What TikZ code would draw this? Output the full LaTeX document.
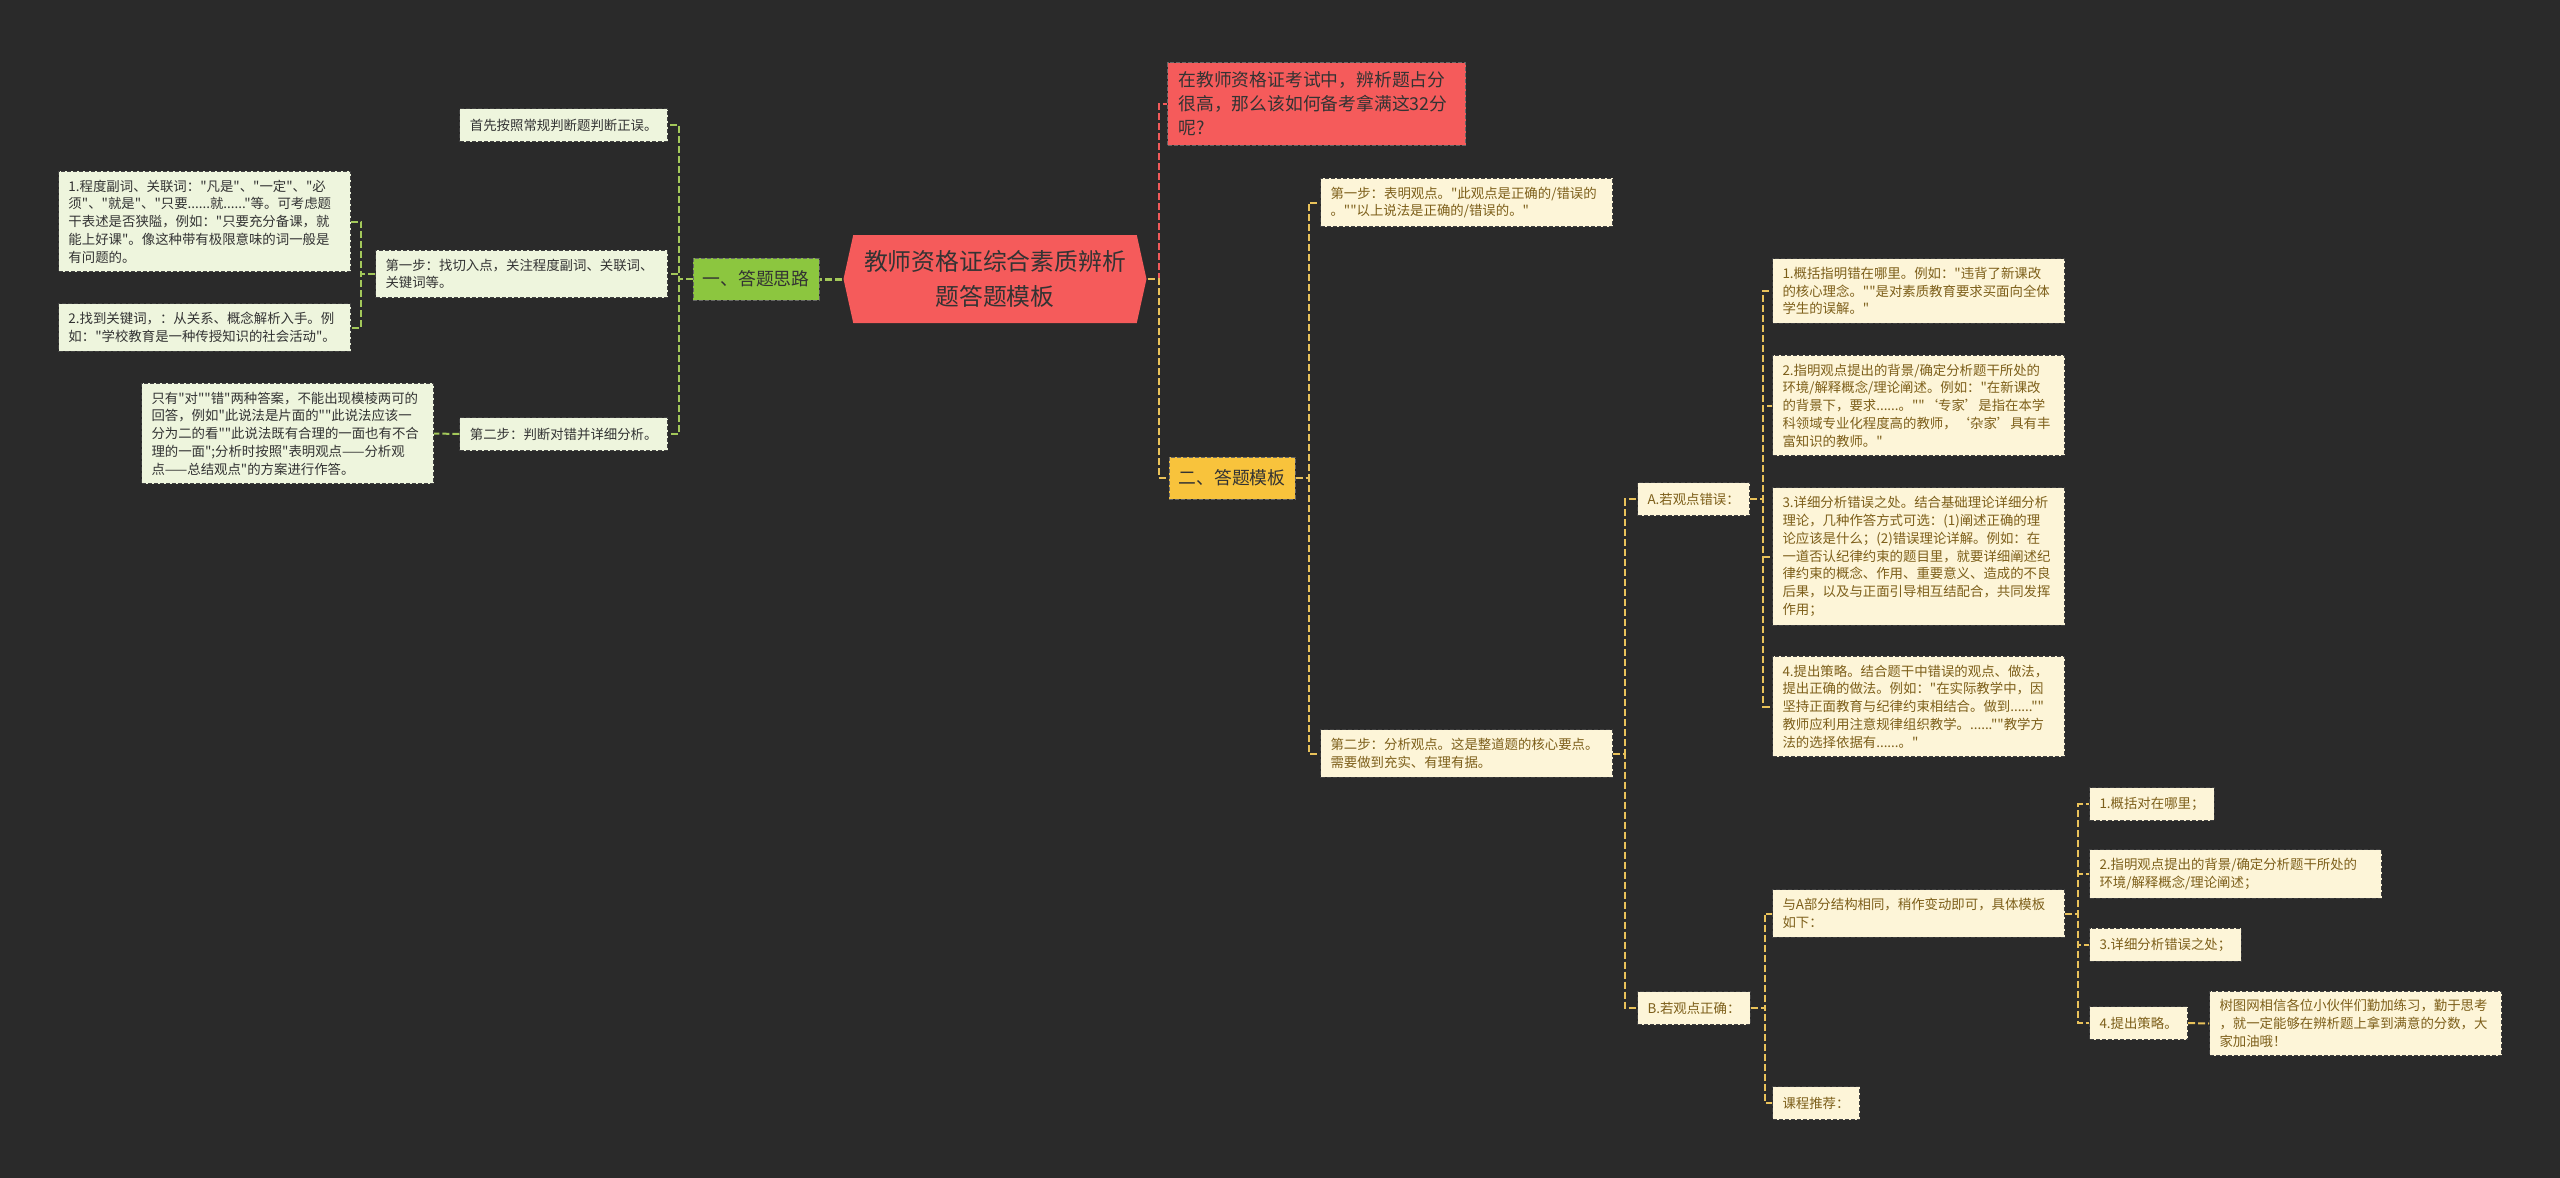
\documentclass[tikz,border=0pt]{standalone}
\usepackage{fontspec}
\setmainfont{Noto Sans CJK SC}[Ligatures=TeXOff]
\usepackage{tikz}
\usetikzlibrary{shapes,shapes.symbols,positioning}

\definecolor{bgdark}{HTML}{2A2A2A}
\definecolor{rootred}{HTML}{F55B5B}
\definecolor{leafgreen}{HTML}{EEF5DD}
\definecolor{leafcream}{HTML}{FDF5D8}
\definecolor{olive}{HTML}{7D5F1A}
\definecolor{topgreen}{HTML}{8CC63F}
\definecolor{topyellow}{HTML}{F8C33C}
\definecolor{linegreen}{HTML}{A3C85A}
\definecolor{lineyellow}{HTML}{E9C25A}
\definecolor{linered}{HTML}{F05A5A}
\definecolor{txtdark}{HTML}{333333}

\newcommand{\leaffont}{\fontsize{6.7}{8.9}\selectfont}

\begin{document}
\begin{tikzpicture}[x=0.5pt,y=-0.5pt,line width=1pt]
\tikzstyle{leafL} = [draw=black!75, dash pattern=on 2pt off 1pt, line width=0.5pt, fill=leafgreen, text=txtdark, font=\leaffont, align=left, inner xsep=5pt, inner ysep=4.2pt, minimum height=16.5pt]
\tikzstyle{wideL} = [leafL, text width=136pt]
\tikzstyle{leafR} = [leafL, fill=leafcream, text=olive]
\tikzstyle{wideR} = [leafR, text width=136pt]
\tikzstyle{topic} = [draw=black!60, dash pattern=on 2pt off 1pt, line width=0.5pt, text=txtdark, font=\fontsize{8.9}{12}\selectfont, minimum width=63pt, minimum height=21pt, inner sep=0pt]
\tikzstyle{rootnode} = [shape=signal, signal to=west and east, signal pointer angle=155, fill=rootred, text=txtdark, font=\fontsize{11.9}{17.5}\selectfont, align=center, minimum width=151.5pt, minimum height=44pt, inner sep=2pt]
\tikzstyle{linkL} = [draw=linegreen, dash pattern=on 3.5pt off 1.5pt, line width=1pt]
\tikzstyle{linkR} = [linkL, draw=lineyellow]

% Canvas
\useasboundingbox (0,0) rectangle (2560,1178);
\fill[bgdark] (0,0) rectangle (2560,1178);

% Root and main topics
\node[rootnode] at (995,279) (root) {教师资格证综合素质辨析\\题答题模板};
\node[topic, fill=topgreen] at (756,279) (g1) {一、答题思路};
\node[topic, fill=topyellow] at (1232,478) (g2) {二、答题模板};
\node[draw=black!60, dash pattern=on 2pt off 1pt, line width=0.5pt, fill=rootred, text=txtdark, font=\fontsize{8.9}{12}\selectfont, align=left, text width=138pt, inner xsep=5.5pt, inner ysep=4.5pt, anchor=west] at (1167,104) (intro) {在教师资格证考试中，辨析题占分\\很高，那么该如何备考拿满这32分\\呢?};

% Left branch
\node[leafL, anchor=east] at (668,125) (s0) {首先按照常规判断题判断正误。};
\node[wideL, anchor=east] at (668,274) (s1) {第一步：找切入点，关注程度副词、关联词、\\关键词等。};
\node[leafL, anchor=east] at (668,434) (s2) {第二步：判断对错并详细分析。};
\node[wideL, anchor=east] at (351,221.5) (k1) {1.程度副词、关联词："凡是"、"一定"、"必\\须"、"就是"、"只要......就......"等。可考虑题\\干表述是否狭隘，例如："只要充分备课，就\\能上好课"。像这种带有极限意味的词一般是\\有问题的。};
\node[wideL, below of=k1, node distance=53pt] (k2) {2.找到关键词，：从关系、概念解析入手。例\\如："学校教育是一种传授知识的社会活动"。};
\node[wideL, anchor=east] at (434,433.5) (k3) {只有"对""错"两种答案，不能出现模棱两可的\\回答，例如"此说法是片面的""此说法应该一\\分为二的看""此说法既有合理的一面也有不合\\理的一面";分析时按照"表明观点——分析观\\点——总结观点"的方案进行作答。};

\draw[linkL, line width=1.5pt] (root.west) -- (g1.east);
\draw[linkL] (g1.west) -- ++(-14,0) |- (s0.east);
\draw[linkL] (g1.west) -- ++(-14,0) |- (s1.east);
\draw[linkL] (g1.west) -- ++(-14,0) |- (s2.east);
\draw[linkL] (s1.west) -- ++(-14,0) |- (k1.east);
\draw[linkL] (s1.west) -- ++(-14,0) |- (k2.east);
\draw[linkL] (s2.west) -- (k3.east);

% Right branch
\node[wideR, anchor=west] at (1320,202.5) (t1) {第一步：表明观点。"此观点是正确的/错误的\\。""以上说法是正确的/错误的。"};
\node[wideR, anchor=west] at (1320,753.5) (t2) {第二步：分析观点。这是整道题的核心要点。\\需要做到充实、有理有据。};
\node[leafR, anchor=west] at (1637,499) (A) {A.若观点错误：};
\node[leafR, anchor=west] at (1637,1008) (B) {B.若观点正确：};

\node[wideR, anchor=west] at (1772,291) (a1) {1.概括指明错在哪里。例如："违背了新课改\\的核心理念。""是对素质教育要求买面向全体\\学生的误解。"};
\node[wideR, below of=a1, node distance=57.25pt] (a2) {2.指明观点提出的背景/确定分析题干所处的\\环境/解释概念/理论阐述。例如："在新课改\\的背景下，要求......。""‘专家’是指在本学\\科领域专业化程度高的教师，‘杂家’具有丰\\富知识的教师。"};
\node[wideR, below of=a2, node distance=75.5pt] (a3) {3.详细分析错误之处。结合基础理论详细分析\\理论，几种作答方式可选：(1)阐述正确的理\\论应该是什么；(2)错误理论详解。例如：在\\一道否认纪律约束的题目里，就要详细阐述纪\\律约束的概念、作用、重要意义、造成的不良\\后果，以及与正面引导相互结配合，共同发挥\\作用；};
\node[wideR, below of=a3, node distance=75pt] (a4) {4.提出策略。结合题干中错误的观点、做法，\\提出正确的做法。例如："在实际教学中，因\\坚持正面教育与纪律约束相结合。做到......""\\教师应利用注意规律组织教学。......""教学方\\法的选择依据有......。"};

\node[wideR, anchor=west] at (1772,913.5) (b1) {与A部分结构相同，稍作变动即可，具体模板\\如下：};
\node[leafR, anchor=west] at (1772,1103) (b2) {课程推荐：};
\node[leafR, anchor=west] at (2089,804) (c1) {1.概括对在哪里；};
\node[wideR, anchor=west] at (2089,874) (c2) {2.指明观点提出的背景/确定分析题干所处的\\环境/解释概念/理论阐述；};
\node[leafR, anchor=west] at (2089,944.5) (c3) {3.详细分析错误之处；};
\node[leafR, anchor=west] at (2089,1023) (c4) {4.提出策略。};
\node[wideR, anchor=west] at (2209,1023.5) (d) {树图网相信各位小伙伴们勤加练习，勤于思考\\，就一定能够在辨析题上拿到满意的分数，大\\家加油哦！};

\draw[linkL, draw=linered] (root.east) -- ++(11,0) |- (intro.west);
\draw[linkR] (root.east) -- ++(11,0) |- (g2.west);
\draw[linkR] (g2.east) -- ++(13,0) |- (t1.west);
\draw[linkR] (g2.east) -- ++(13,0) |- (t2.west);
\draw[linkR] (t2.east) -- ++(12,0) |- (A.west);
\draw[linkR] (t2.east) -- ++(12,0) |- (B.west);
\foreach \n in {a1,a2,a3,a4}
  \draw[linkR] (A.east) -- ++(13,0) |- (\n.west);
\draw[linkR] (B.east) -- ++(14,0) |- (b1.west);
\draw[linkR] (B.east) -- ++(14,0) |- (b2.west);
\foreach \n in {c1,c2,c3,c4}
  \draw[linkR] (b1.east) -- ++(13,0) |- (\n.west);
\draw[linkR] (c4.east) -- (d.west);

\end{tikzpicture}
\end{document}
